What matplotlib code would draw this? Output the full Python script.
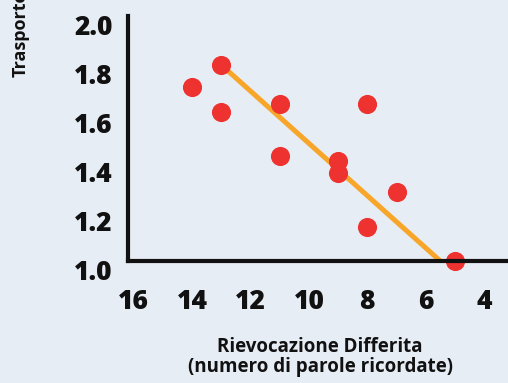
#!/usr/bin/env python3

import matplotlib.pyplot as plt
import matplotlib.transforms as mtransforms

# delayed recall (words remembered) vs transport value
recall = [14, 13, 13, 11, 11, 9, 9, 8, 8, 7, 5]
transport = [1.71, 1.80, 1.61, 1.64, 1.43, 1.41, 1.36, 1.64, 1.14, 1.28, 1.00]

# trend line end points
trend_x = [13, 5.5]
trend_y = [1.80, 1.00]

xticks = [16, 14, 12, 10, 8, 6, 4]
yticks = [1.0, 1.2, 1.4, 1.6, 1.8, 2.0]

BG = "#e7edf4"
plt.rcParams["font.family"] = ["Open Sans", "DejaVu Sans"]

fig = plt.figure(figsize=(5.08, 3.83), dpi=100)
fig.patch.set_facecolor(BG)
ax = fig.add_axes([128 / 508, 1 - 261 / 383, 1 - 128 / 508, 245 / 383])
ax.set_facecolor(BG)

ax.plot(trend_x, trend_y, color="#f7a62a", linewidth=3.6, zorder=1,
        solid_capstyle="butt")
ax.scatter(recall, transport, s=190, color="#ee3230", zorder=2,
           clip_on=False, linewidths=0)

ax.set_xlim(16.2, 3.18)
ax.set_ylim(1.0, 2.0)

for side in ["top", "right"]:
    ax.spines[side].set_visible(False)
for side in ["left", "bottom"]:
    ax.spines[side].set_linewidth(3)
    ax.spines[side].set_color("#111111")
    ax.spines[side].set_zorder(3)

ax.set_xticks(xticks)
ax.set_xticklabels([str(t) for t in xticks])
ax.set_yticks(yticks)
ax.set_yticklabels([f"{t:.1f}" for t in yticks])
ax.tick_params(length=0, labelsize=19, colors="#111111")
ax.tick_params(axis="x", pad=20)
ax.tick_params(axis="y", pad=11)
for lab in ax.get_xticklabels() + ax.get_yticklabels():
    lab.set_fontweight("heavy")

# y tick labels sit a little below their grid position in the original
shift = mtransforms.ScaledTranslation(0, -9 / 100, fig.dpi_scale_trans)
for lab in ax.get_yticklabels():
    lab.set_transform(lab.get_transform() + shift)

fig.text(320 / 508, 1 - 357 / 383,
         "Rievocazione Differita\n(numero di parole ricordate)",
         ha="center", va="center", fontsize=13.5, fontweight="bold",
         color="#111111", linespacing=1.05)
fig.text(21 / 508, 1 - 77 / 383, "Trasporto", rotation=90,
         ha="center", va="bottom", fontsize=13, fontweight="bold",
         color="#111111")

fig.savefig("out.png", dpi=100, facecolor=BG)
